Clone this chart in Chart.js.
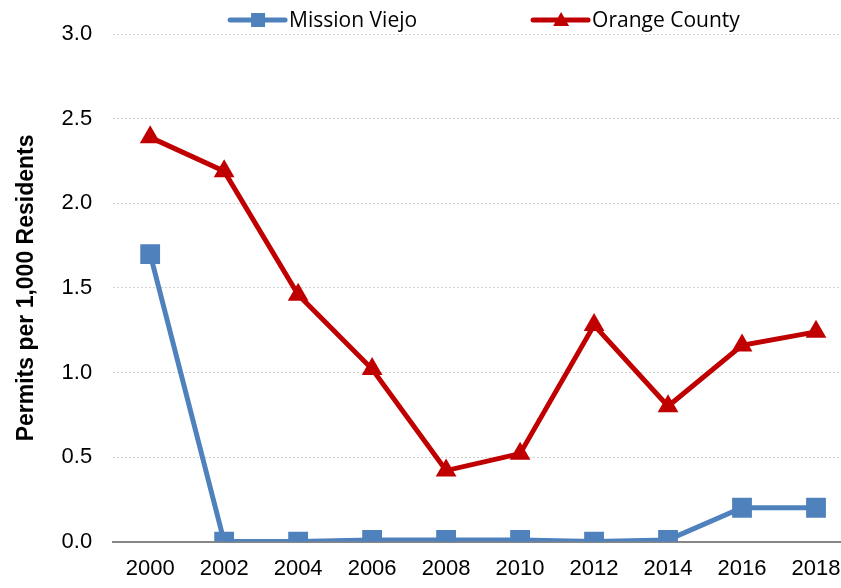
<!DOCTYPE html>
<html>
<head>
<meta charset="utf-8">
<script src="https://cdn.jsdelivr.net/npm/chart.js@4/dist/chart.umd.min.js"></script>
<style>
  html, body { margin: 0; padding: 0; background: #fff; overflow: hidden; }
  #wrap { width: 867px; height: 588px; }
</style>
</head>
<body>
<div id="wrap"><canvas id="lineChart" width="867" height="588"></canvas></div>
<script>
const years = ["2000", "2002", "2004", "2006", "2008", "2010", "2012", "2014", "2016", "2018"];
const missionViejo = [1.70, 0.0, 0.0, 0.01, 0.01, 0.01, 0.0, 0.01, 0.2, 0.2];
const orangeCounty = [2.39, 2.19, 1.46, 1.02, 0.42, 0.52, 1.28, 0.80, 1.16, 1.24];

const blue = "#4F81BD";
const red = "#C00000";

// legend drawn by hand: Excel style line with marker in the middle
const lineLegend = {
  id: "lineLegend",
  afterDraw(chart) {
    const ctx = chart.ctx;
    const cx = (chart.chartArea.left + chart.chartArea.right) / 2;
    const y = 20;
    const items = [
      { x: cx - 253, label: "Mission Viejo", color: blue, shape: "rect" },
      { x: cx + 50, label: "Orange County", color: red, shape: "tri" },
    ];
    ctx.save();
    items.forEach((it) => {
      ctx.strokeStyle = it.color;
      ctx.fillStyle = it.color;
      ctx.lineWidth = 5;
      ctx.lineCap = "round";
      ctx.beginPath();
      ctx.moveTo(it.x, y);
      ctx.lineTo(it.x + 55, y);
      ctx.stroke();
      const mx = it.x + 28;
      if (it.shape === "rect") {
        ctx.fillRect(mx - 7, y - 7, 14, 14);
      } else {
        ctx.beginPath();
        ctx.moveTo(mx, y - 8);
        ctx.lineTo(mx + 8, y + 6);
        ctx.lineTo(mx - 8, y + 6);
        ctx.closePath();
        ctx.fill();
      }
      ctx.fillStyle = "#000";
      ctx.font = "21px 'Open Sans'";
      ctx.textBaseline = "middle";
      ctx.textAlign = "left";
      ctx.fillText(it.label, it.x + 59, y + 1);
    });
    ctx.restore();
  },
};

new Chart(document.getElementById("lineChart"), {
  type: "line",
  data: {
    labels: years,
    datasets: [
      {
        label: "Mission Viejo",
        data: missionViejo,
        borderColor: blue,
        backgroundColor: blue,
        borderWidth: 5,
        pointStyle: "rect",
        pointRadius: 14,
        pointBorderWidth: 0,
        tension: 0,
      },
      {
        label: "Orange County",
        data: orangeCounty,
        borderColor: red,
        backgroundColor: red,
        borderWidth: 5,
        pointStyle: "triangle",
        pointRadius: 12,
        pointBorderWidth: 0,
        tension: 0,
      },
    ],
  },
  options: {
    responsive: false,
    animation: false,
    layout: { padding: { top: 9, right: 0, left: 0, bottom: 0 } },
    plugins: {
      legend: { display: false },
      tooltip: { enabled: false },
    },
    scales: {
      x: {
        offset: true,
        grid: { display: false },
        border: { display: true, color: "#868686", width: 2 },
        ticks: {
          color: "#000",
          font: { family: "'Liberation Sans', sans-serif", size: 22 },
          padding: 6,
          maxRotation: 0,
        },
      },
      y: {
        min: 0,
        max: 3,
        ticks: {
          stepSize: 0.5,
          color: "#000",
          padding: 21,
          font: { family: "'Liberation Sans', sans-serif", size: 22 },
          callback: (v) => v.toFixed(1),
        },
        grid: { color: "#D0D0D0", lineWidth: 1, drawTicks: false },
        border: { display: false, dash: [2, 2] },
        title: {
          display: true,
          text: "Permits per 1,000 Residents",
          color: "#000",
          font: { family: "'Liberation Sans', sans-serif", size: 23, weight: "bold" },
          padding: { top: 13, bottom: 0 },
        },
      },
    },
  },
  plugins: [lineLegend],
});
</script>
</body>
</html>
